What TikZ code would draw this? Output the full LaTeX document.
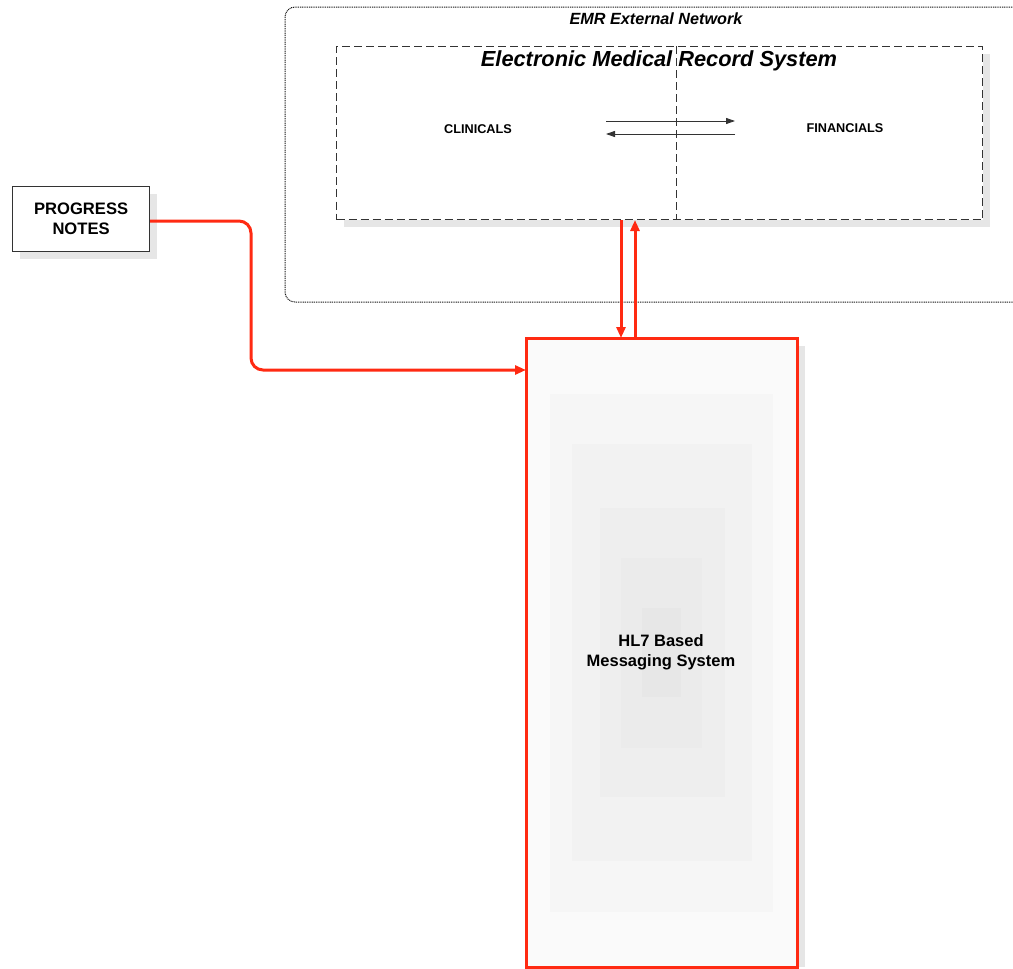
\documentclass[tikz,border=0pt]{standalone}
\usepackage{fontspec}
\setmainfont{Liberation Sans}
\usetikzlibrary{arrows.meta}
\definecolor{shad}{HTML}{E6E6E6}
\definecolor{redl}{HTML}{FF2A12}
\begin{document}
\begin{tikzpicture}[x=1pt,y=-1pt,
  shadowbox/.style={fill=shad,draw=none},
  redarrow/.style={draw=redl,line width=3pt,-{Triangle[length=11pt,width=9pt]}},
  blackarrow/.style={draw=black!80,line width=0.9pt,-{Triangle[length=9pt,width=6pt]}},
  lbl/.style={font=\bfseries\fontsize{12.7}{14}\selectfont,inner sep=0pt}
]
\useasboundingbox (0,0) rectangle (1013,969);
% EMR external network
\draw[black!90,dash pattern=on 1pt off 0.8pt,line width=1pt,rounded corners=10pt] (1030,7) -- (285,7) -- (285,302) -- (1030,302);
\node[inner sep=0pt,font=\bfseries\itshape\fontsize{16.2}{18}\selectfont] (net) at (656,19) {EMR External Network};
% EMR system box
\fill[shad] (344,54) rectangle (990,227);
\node[draw=black!80,dash pattern=on 8pt off 4pt,line width=1pt,fill=white,minimum width=646pt,minimum height=173pt,inner sep=0pt,anchor=north west] (emr) at (336,46) {};
\draw[black!80,dash pattern=on 8pt off 4pt,line width=1pt] (676,46) coordinate (d1) -- (676,219) coordinate (d2);
\node[inner sep=0pt,font=\bfseries\itshape\fontsize{21.8}{24}\selectfont] (title) at (659,61) {Electronic Medical Record System};
\node[lbl] (clin) at (478,129) {CLINICALS};
\node[lbl] (fin) at (845,128) {FINANCIALS};
\coordinate (a1) at (606,121); \coordinate (a2) at (735,121);
\coordinate (b1) at (735,134); \coordinate (b2) at (606,134);
\draw[blackarrow] (a1) -- (a2);
\draw[blackarrow] (b1) -- (b2);
% progress notes
\fill[shad] (20,194) rectangle (157,259);
\node[draw=black!80,fill=white,line width=1.2pt,minimum width=137pt,minimum height=65pt,inner sep=0pt,anchor=north west,align=center,font=\bfseries\fontsize{16.6}{20}\selectfont] (pn) at (12,186) {PROGRESS\\NOTES};
% HL7 box
\fill[shad] (534,346) rectangle (805,967);
\node[draw=none,fill=black!2,minimum width=271pt,minimum height=629pt,inner sep=0pt,anchor=north west] (hl7) at (526,338) {};
\fill[black!3.5] (550,394) rectangle (773,912);
\fill[black!5] (572,444) rectangle (752,861);
\fill[black!6.5] (600,508) rectangle (725,797);
\fill[black!8] (621,558) rectangle (702,748);
\fill[black!9.5] (642,608) rectangle (681,697);
\draw[redl,line width=3pt] (hl7.north west) rectangle (hl7.south east);
\node[align=center,inner sep=0pt,font=\bfseries\fontsize{16.5}{20}\selectfont] (hl7t) at (661,652) {HL7 Based\\Messaging System};
% red connectors
\draw[redarrow,rounded corners=12pt] (pn.east |- 0,221) -- (251,221) -- (251,370) -- (hl7.west |- 0,370);
\draw[redarrow] (emr.south -| 621,0) -- (hl7.north -| 621,0);
\draw[redarrow] (hl7.north -| 635,0) -- (emr.south -| 635,0);
\end{tikzpicture}
\end{document}
